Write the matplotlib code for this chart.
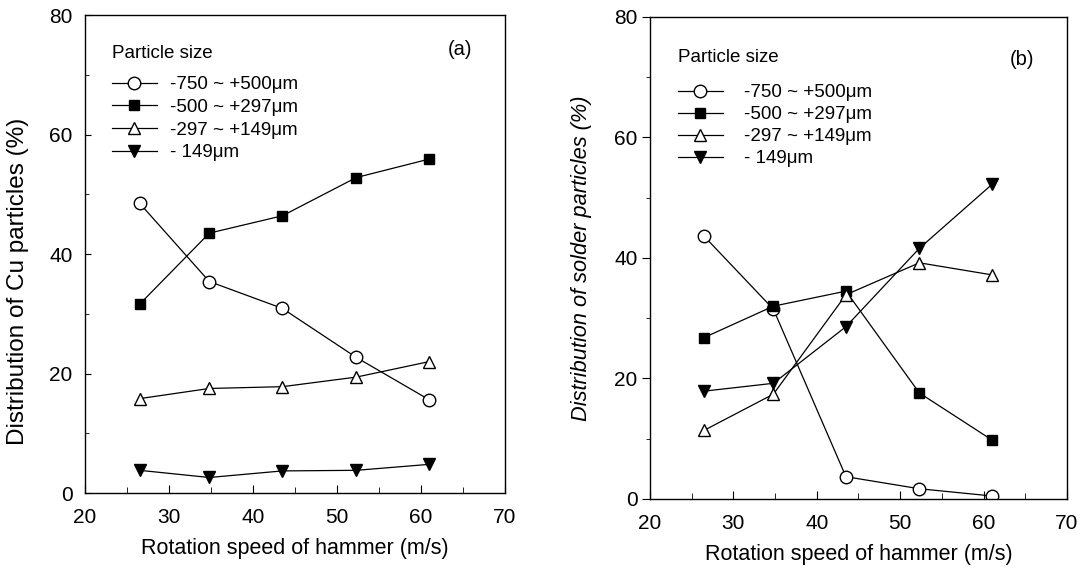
import matplotlib
matplotlib.use("Agg")
import matplotlib.pyplot as plt
from matplotlib.ticker import MultipleLocator

plt.rcParams['font.family'] = ['Liberation Sans', 'DejaVu Sans']

speed = [26.5, 34.8, 43.5, 52.3, 61.0]
labels = ["-750 ~ +500\u03bcm", "-500 ~ +297\u03bcm", "-297 ~ +149\u03bcm", "- 149\u03bcm"]

cu_750_500 = [48.5, 35.4, 30.9, 22.7, 15.6]
cu_500_297 = [31.6, 43.5, 46.4, 52.8, 55.9]
cu_297_149 = [15.8, 17.5, 17.8, 19.4, 22.0]
cu_149 = [3.8, 2.6, 3.7, 3.8, 4.8]

sol_750_500 = [43.6, 31.5, 3.7, 1.7, 0.5]
sol_500_297 = [26.8, 32.0, 34.5, 17.6, 9.8]
sol_297_149 = [11.4, 17.4, 33.9, 39.2, 37.2]
sol_149 = [17.9, 19.2, 28.6, 41.6, 52.2]

styles = [
    dict(marker='o', mfc='white', ms=9),
    dict(marker='s', mfc='black', ms=7.5),
    dict(marker='^', mfc='white', ms=9),
    dict(marker='v', mfc='black', ms=8),
]

fig = plt.figure(figsize=(10.82, 5.68), dpi=100)
axa = fig.add_axes([0.0786, 0.132, 0.388, 0.8415])
axb = fig.add_axes([0.6007, 0.1215, 0.3854, 0.8486])

def draw(ax, series, ylabel, italic, ylsize, ylcoords, tag, tagpos, ytickdir,
         legpos, hpad, legsep, lspace):
    for s, lab, st in zip(series, labels, styles):
        ax.plot(speed, s, color='black', lw=0.9, mec='black', mew=1.0, label=lab, **st)
    ax.set_xlim(20, 70)
    ax.set_ylim(0, 80)
    ax.xaxis.set_major_locator(MultipleLocator(10))
    ax.xaxis.set_minor_locator(MultipleLocator(5))
    ax.yaxis.set_major_locator(MultipleLocator(20))
    ax.yaxis.set_minor_locator(MultipleLocator(10))
    ax.tick_params(axis='x', which='both', direction='in', labelsize=15, pad=11)
    ax.tick_params(axis='x', which='major', length=6)
    ax.tick_params(axis='x', which='minor', length=4)
    if ytickdir == 'in':
        ax.tick_params(axis='y', which='both', direction='in', labelsize=15, pad=9)
        ax.tick_params(axis='y', which='major', length=4)
        ax.tick_params(axis='y', which='minor', length=3)
    else:
        ax.tick_params(axis='y', which='both', direction='out', labelsize=15, pad=3)
        ax.tick_params(axis='y', which='major', length=6)
        ax.tick_params(axis='y', which='minor', length=3)
    ax.set_xlabel("Rotation speed of hammer (m/s)", fontsize=15.5, labelpad=8)
    ax.set_ylabel(ylabel, fontsize=ylsize, style='italic' if italic else 'normal')
    ax.yaxis.set_label_coords(*ylcoords)
    for sp in ax.spines.values():
        sp.set_linewidth(1.0)
    ax.text(tagpos[0], tagpos[1], tag, transform=ax.transAxes, fontsize=14.5,
            ha='center', va='center')
    leg = ax.legend(loc='upper left', bbox_to_anchor=legpos, frameon=False,
                    title="Particle size", fontsize=13.5, title_fontsize=13.5,
                    handlelength=2.4, handletextpad=hpad, labelspacing=lspace,
                    borderpad=0.0, borderaxespad=0.0, alignment='left')
    leg._legend_box.sep = legsep

draw(axa, [cu_750_500, cu_500_297, cu_297_149, cu_149],
     "Distribution of Cu particles (%)", False, 17.5, (-0.133, 0.4435),
     "(a)", (0.893, 0.927), 'in', (0.064, 0.938), 0.7, 10.5, 0.29)
draw(axb, [sol_750_500, sol_500_297, sol_297_149, sol_149],
     "Distribution of solder particles (%)", True, 15.7, (-0.139, 0.5),
     "(b)", (0.892, 0.911), 'out', (0.067, 0.9346), 1.1, 13.5, 0.26)

fig.savefig("out.png", dpi=100)
